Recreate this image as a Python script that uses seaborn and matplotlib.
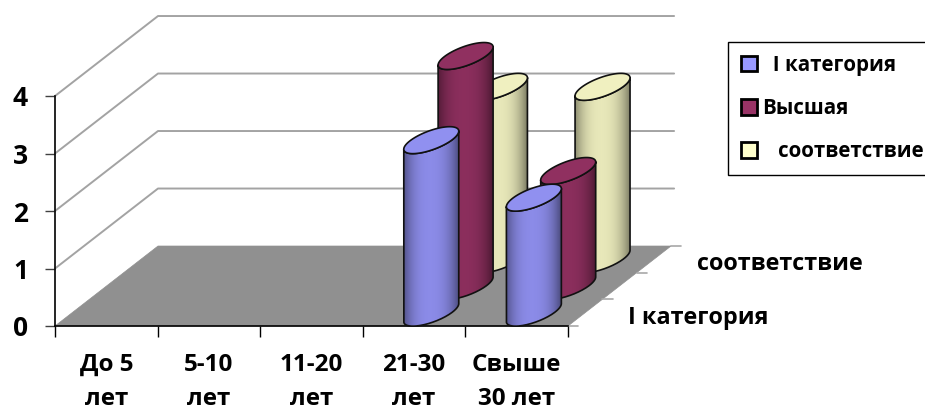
import numpy as np
import matplotlib
matplotlib.use("Agg")
import matplotlib.pyplot as plt
from matplotlib.colors import to_rgb
from matplotlib.patches import Patch, Polygon
import seaborn as sns

categories = ["До 5\nлет", "5-10\nлет", "11-20\nлет", "21-30\nлет", "Свыше\n30 лет"]
series_names = ["I категория", "Высшая", "соответствие"]
first_category = [0, 0, 0, 3, 2]
highest = [0, 0, 0, 4, 2]
conformity = [0, 0, 0, 3, 3]
series_values = [first_category, highest, conformity]
palette = ["#9999ff", "#993366", "#ffffcc"]
value_ticks = [0, 1, 2, 3, 4]

sns.set_theme(style="white")
plt.rcParams["font.family"] = ["Open Sans", "DejaVu Sans"]
plt.rcParams["font.weight"] = "bold"
plt.rcParams["text.color"] = "black"

W, H = 925, 413
fig = plt.figure(figsize=(W / 100, H / 100), dpi=100)
ax = fig.add_axes([55 / W, (H - 326) / H, 513 / W, 230 / H])

ncat = len(categories)
vmax = value_ticks[-1]
DX, DY = 1.004, 1.391          # oblique depth vector in data units
RX, SHEAR, RY = 0.268, 0.157, 0.174  # ellipse shape in data units


def proj(cat, depth, val):
    return cat + depth * DX, val + depth * DY


# floor
floor = [proj(0, 0, 0), proj(ncat, 0, 0), proj(ncat, 1, 0), proj(0, 1, 0)]
ax.add_patch(Polygon(floor, closed=True, fc="#909090", ec="#909090", lw=0.5,
                     clip_on=False, zorder=1))

# wall gridlines
for v in value_ticks[1:]:
    p = [proj(0, 0, v), proj(0, 1, v), proj(ncat + 0.03, 1, v)]
    sns.lineplot(x=[q[0] for q in p], y=[q[1] for q in p], sort=False, estimator=None,
                 color="#a3a3a3", lw=1.4, clip_on=False, zorder=1, ax=ax)

# depth-axis ticks
for d in [0, 1 / 3, 2 / 3, 1]:
    a = proj(ncat, d, 0)
    sns.lineplot(x=[a[0], a[0] + 0.1], y=[a[1], a[1]], sort=False, estimator=None,
                 color="#a8a8a8", lw=1.2, clip_on=False, zorder=1, ax=ax)


def cylinder(cx, y0, y1, color, z):
    t = np.linspace(0, np.pi, 80)
    u = np.cos(t)                       # +1 right .. -1 left
    lower = lambda yc: yc + SHEAR * u - RY * np.sin(t)   # front (lower) arc
    upper = lambda yc: yc + SHEAR * u + RY * np.sin(t)
    xs = cx + RX * u
    bx = np.r_[xs, xs[::-1]]
    by = np.r_[lower(y1), lower(y0)[::-1]]
    n = 128
    uu = np.linspace(-1, 1, n)
    shade = 0.91 - 0.36 * np.abs(uu) ** 2.6
    shade = shade - 0.05 * (uu > 0) * uu
    grad = np.clip(np.outer(shade, to_rgb(color))[None, :, :], 0, 1)
    im = ax.imshow(grad, extent=(cx - RX, cx + RX, y0 - 1, y1 + 1), aspect="auto",
                   interpolation="bilinear", zorder=z)
    clip = Polygon(np.c_[bx, by], closed=True, transform=ax.transData)
    im.set_clip_path(clip)
    im.set_clip_box(fig.bbox)
    ax.plot(np.r_[bx, bx[0]], np.r_[by, by[0]], color="#111111", lw=1.2,
            clip_on=False, zorder=z + 0.1)
    # top cap
    ex, ey = np.r_[xs, xs[::-1]], np.r_[upper(y1), lower(y1)[::-1]]
    cap = tuple(0.94 * c for c in to_rgb(color))
    ax.add_patch(Polygon(np.c_[ex, ey], closed=True, fc=cap, ec="#111111", lw=1.2,
                         clip_on=False, zorder=z + 0.2))


z = 2
for s in reversed(range(len(series_values))):
    depth = (s + 0.5) / len(series_values)
    for c, val in enumerate(series_values[s]):
        if val > 0:
            cx, y0 = proj(c + 0.5, depth, 0)
            cylinder(cx, y0, y0 + val, palette[s], z)
            z += 1

ax.set_xlim(0, ncat)
ax.set_ylim(0, vmax)
for side in ["top", "right"]:
    ax.spines[side].set_visible(False)
for side in ["left", "bottom"]:
    ax.spines[side].set_color("black")
    ax.spines[side].set_linewidth(1.2)
    ax.spines[side].set_zorder(1.5)

ax.set_xticks(range(ncat + 1))
ax.set_xticklabels([])
ax.set_xticks(np.arange(ncat) + 0.5, categories, minor=True)
ax.set_yticks(value_ticks)
ax.tick_params(axis="x", which="major", length=8, width=1, color="black", bottom=True)
ax.tick_params(axis="x", which="minor", length=0, pad=19.5, labelsize=17.5, labelcolor="black", bottom=False)
ax.tick_params(axis="y", length=7.5, width=1, color="#404040", pad=12, labelsize=19, labelcolor="black", left=True)
for lab in ax.get_xticklabels(minor=True):
    lab.set_linespacing(1.56)
    lab.set_fontweight("bold")
for lab in ax.get_yticklabels():
    lab.set_fontweight("bold")
ax.patch.set_alpha(0)

# depth-axis labels (first and last series only)
for s in [0, 2]:
    d = (s + 0.5) / 3
    ax.annotate(series_names[s], xy=proj(ncat, d, 0), xytext=(31, -3.7),
                textcoords="offset points", fontsize=16.8, fontweight="bold",
                color="black", va="center", ha="left", annotation_clip=False)

# legend
handles = [Patch(fc=c, ec="black", lw=2) for c in palette]
labels = ["  " + series_names[0], series_names[1], "   " + series_names[2]]
leg = fig.legend(handles, labels, loc="upper left", bbox_to_anchor=(728 / W, 1 - 42 / H),
                 frameon=True, fancybox=False, edgecolor="black", framealpha=1,
                 prop={"size": 14.8, "weight": "bold", "family": "Open Sans"},
                 handlelength=0.78, handleheight=0.78, handletextpad=0.25,
                 labelspacing=1.08, borderpad=0.62, borderaxespad=0)
leg.get_frame().set_linewidth(1.0)

fig.savefig("out.png", dpi=100)
